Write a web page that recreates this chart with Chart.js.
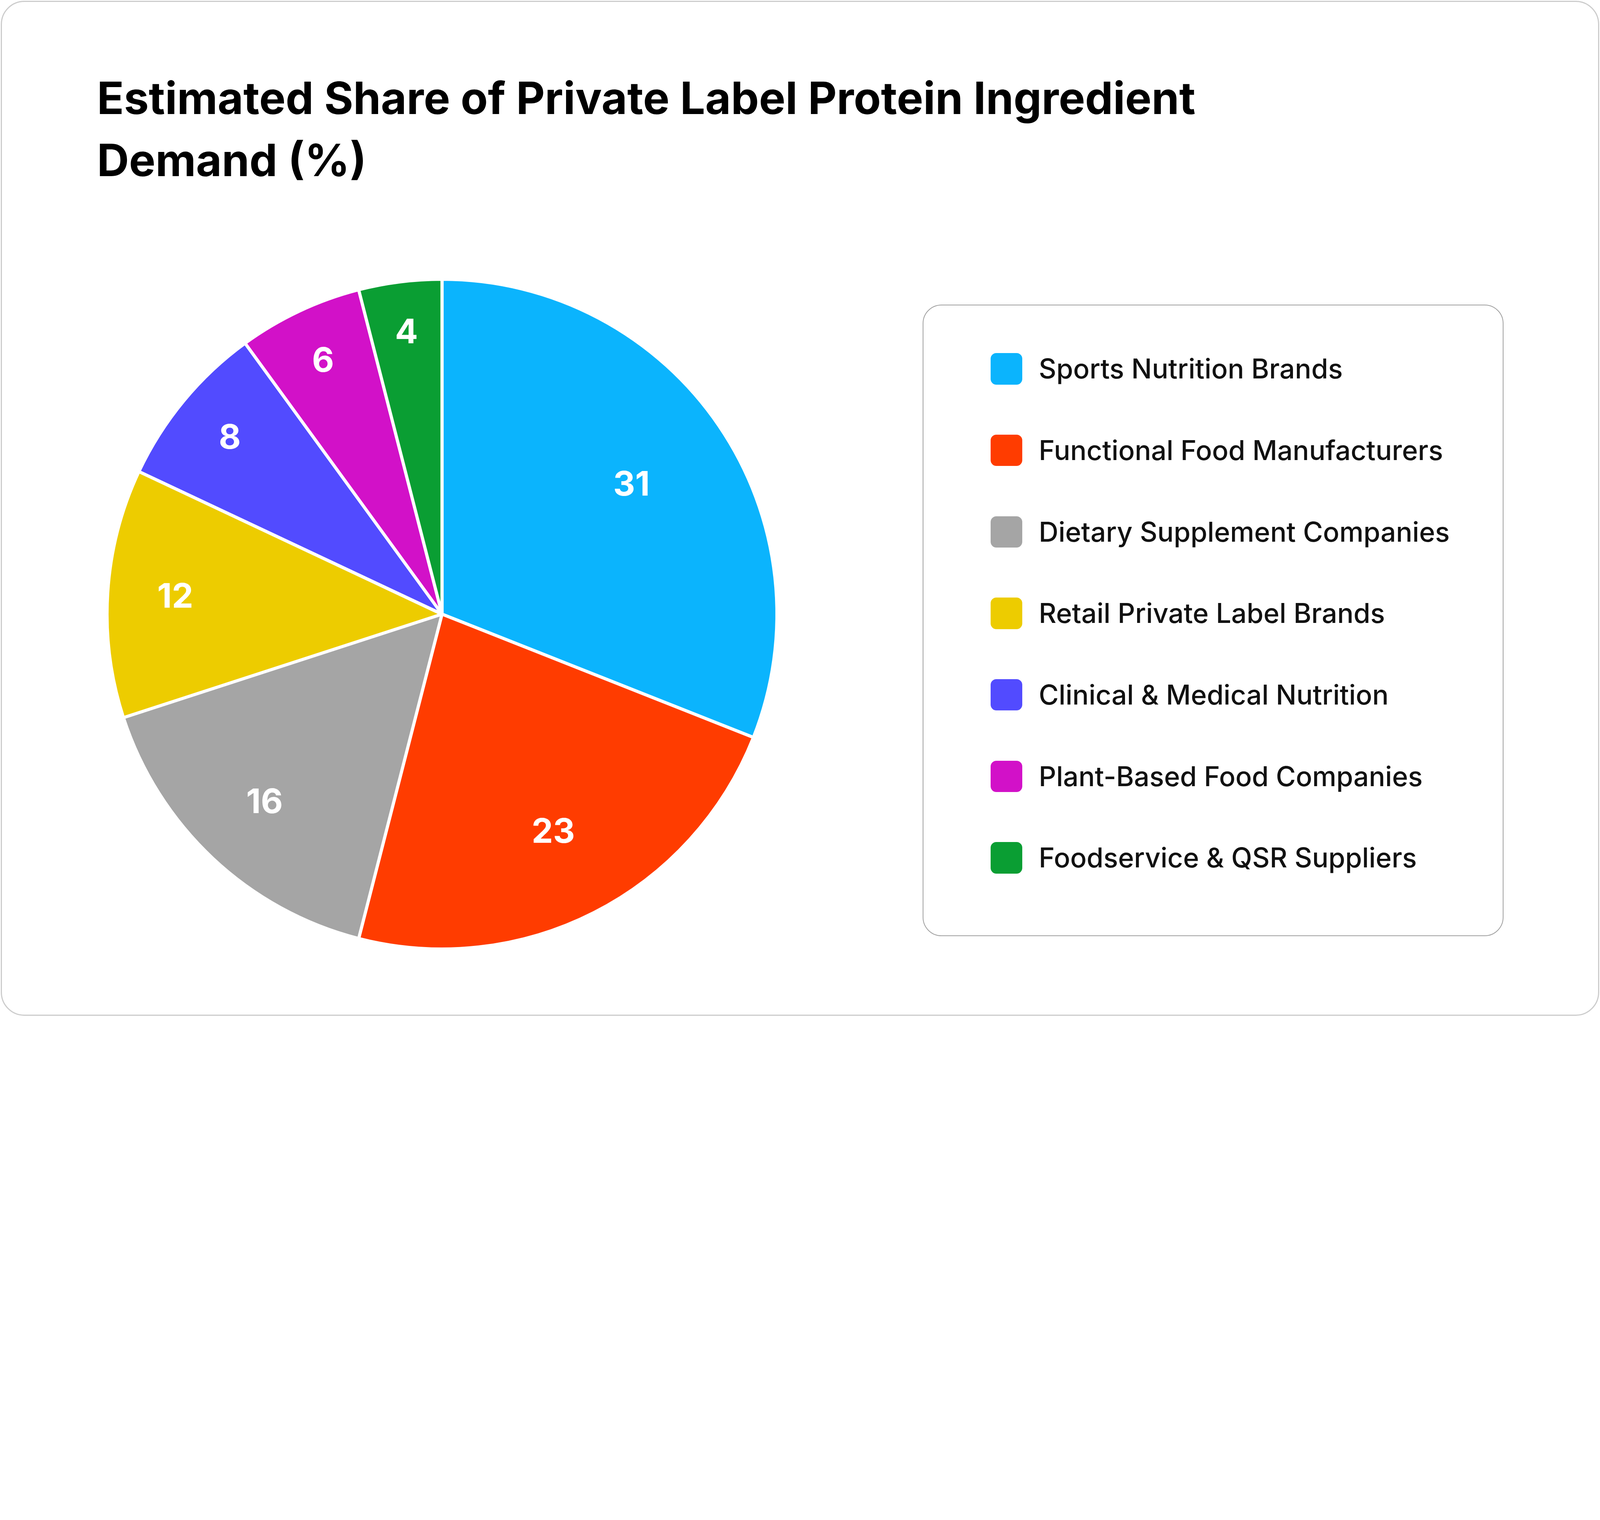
<!DOCTYPE html>
<html>
<head>
<meta charset="utf-8">
<script src="https://cdn.jsdelivr.net/npm/chart.js@4.4.1/dist/chart.umd.min.js"></script>
<style>
  :root { --u: calc(100vw / 6124); }
  html, body { margin: 0; padding: 0; background: #fff; }
  body { width: 100vw; height: 100vh; position: relative; overflow: hidden; font-family: Inter, "Noto Sans", sans-serif; }
  .card { position: absolute; left: calc(3 * var(--u)); top: calc(3 * var(--u)); width: calc(6118 * var(--u)); height: calc(3886 * var(--u));
          box-sizing: border-box; border: calc(5 * var(--u)) solid #cccccc; border-radius: calc(90 * var(--u)); background: #fff; }
  .title { position: absolute; left: calc(371 * var(--u)); top: calc(256 * var(--u)); font-weight: 700;
           font-size: calc(170 * var(--u)); line-height: calc(238 * var(--u)); color: #000; white-space: nowrap; }
  .pie { position: absolute; left: calc(391 * var(--u)); top: calc(1051 * var(--u)); width: calc(2600 * var(--u)); height: calc(2600 * var(--u)); }
  .legend { position: absolute; left: calc(3532 * var(--u)); top: calc(1166 * var(--u)); width: calc(2223 * var(--u)); height: calc(2418 * var(--u));
            box-sizing: border-box; border: calc(4 * var(--u)) solid #a0a0a0; border-radius: calc(72 * var(--u)); }
  .item { position: absolute; left: calc(3792 * var(--u)); height: calc(120 * var(--u)); display: flex; align-items: center; }
  .swatch { width: calc(120 * var(--u)); height: calc(120 * var(--u)); border-radius: calc(22 * var(--u)); margin-right: calc(64 * var(--u)); flex: none; }
  .item span { font-size: calc(104 * var(--u)); font-weight: 500; line-height: calc(120 * var(--u)); color: #111; white-space: nowrap; }
</style>
</head>
<body>
<div class="card"></div>
<div class="title" id="title"></div>
<div class="pie"><canvas id="shareChart"></canvas></div>
<div class="legend"></div>
<div id="legendItems"></div>

<script>
const titleLines = ["Estimated Share of Private Label Protein Ingredient", "Demand (%)"];

const segments = [
  "Sports Nutrition Brands",
  "Functional Food Manufacturers",
  "Dietary Supplement Companies",
  "Retail Private Label Brands",
  "Clinical & Medical Nutrition",
  "Plant-Based Food Companies",
  "Foodservice & QSR Suppliers",
];
const shares = [31, 23, 16, 12, 8, 6, 4];

const colors = ["#0bb4fd", "#ff3c00", "#a5a5a5", "#edcc00", "#524bff", "#d211c8", "#0a9e33"];

// everything is laid out on a 6124-wide grid, then scaled to the window
const k = window.innerWidth / 6124;

document.getElementById("title").innerHTML = titleLines.join("<br>");

// legend on the right, built from the same arrays
const legendItems = document.getElementById("legendItems");
segments.forEach((name, i) => {
  const row = document.createElement("div");
  row.className = "item";
  row.style.top = (1352 + i * 312) * k + "px";
  const box = document.createElement("div");
  box.className = "swatch";
  box.style.background = colors[i];
  const txt = document.createElement("span");
  txt.textContent = name;
  row.appendChild(box);
  row.appendChild(txt);
  legendItems.appendChild(row);
});

// white numbers inside the slices
const sliceLabels = {
  id: "sliceLabels",
  afterDatasetsDraw(chart) {
    const ctx = chart.ctx;
    const meta = chart.getDatasetMeta(0);
    ctx.save();
    ctx.font = "700 " + 130 * k + "px Inter";
    ctx.fillStyle = "#ffffff";
    ctx.textAlign = "center";
    ctx.textBaseline = "middle";
    meta.data.forEach((arc, i) => {
      const p = arc.getProps(["x", "y", "startAngle", "endAngle", "outerRadius"], true);
      const mid = (p.startAngle + p.endAngle) / 2;
      const r = p.outerRadius * (0.87 - 0.6 * shares[i] / 100); // small slices push labels outward
      ctx.fillText(String(shares[i]), p.x + Math.cos(mid) * r, p.y + Math.sin(mid) * r);
    });
    ctx.restore();
  },
};

new Chart(document.getElementById("shareChart"), {
  type: "pie",
  data: {
    labels: segments,
    datasets: [
      {
        data: shares,
        backgroundColor: colors,
        borderColor: "#ffffff",
        borderWidth: 12 * k,
      },
    ],
  },
  options: {
    responsive: true,
    maintainAspectRatio: false,
    animation: false,
    layout: { padding: 12 * k },
    plugins: {
      legend: { display: false },
      tooltip: { enabled: false },
    },
  },
  plugins: [sliceLabels],
});
</script>
</body>
</html>
